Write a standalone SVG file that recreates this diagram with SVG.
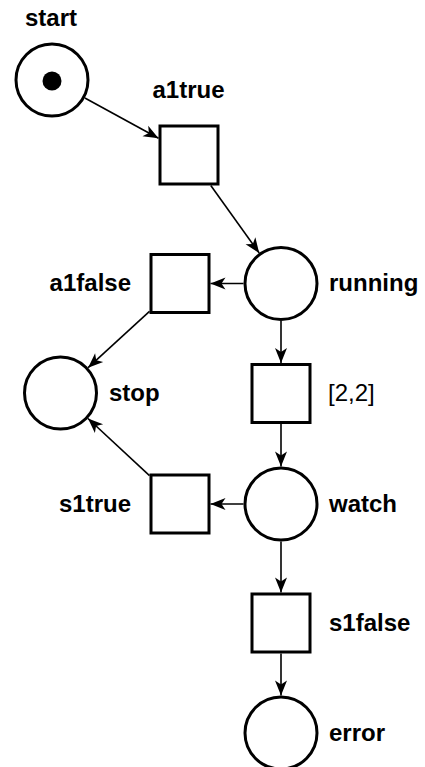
<svg xmlns="http://www.w3.org/2000/svg" width="425" height="767" viewBox="0 0 425 767">
  <style>
    .place { fill: #fff; stroke: #000; stroke-width: 3; }
    .trans { fill: #fff; stroke: #000; stroke-width: 3; }
    .token { fill: #000; }
    .lbl { font-family: "Liberation Sans", Arial, sans-serif; font-size: 24px; font-weight: bold; fill: #000; }
    .lbl.plain { font-weight: normal; }
    .arc { stroke: #000; stroke-width: 1.6; fill: none; marker-end: url(#head); }
  </style>
  <defs>
    <marker id="head" viewBox="-16 -7 17 14" markerWidth="17" markerHeight="14" refX="0" refY="0" markerUnits="userSpaceOnUse" orient="auto">
      <path d="M0,0 L-15,-6 L-11,0 L-15,6 Z" fill="#000"/>
    </marker>
  </defs>

  <rect width="425" height="767" fill="#fff"/>

  <!-- arcs -->
  <g id="arcs">
    <line class="arc" x1="84.9" y1="98" x2="158.5" y2="138.3"/>
    <line class="arc" x1="210.8" y1="185.5" x2="259.2" y2="253"/>
    <line class="arc" x1="243.5" y1="283.5" x2="210.5" y2="283.5"/>
    <line class="arc" x1="149.5" y1="311.4" x2="88.1" y2="367.7"/>
    <line class="arc" x1="281" y1="321" x2="281" y2="363"/>
    <line class="arc" x1="281" y1="424" x2="281" y2="466.5"/>
    <line class="arc" x1="243.5" y1="504" x2="210.5" y2="504"/>
    <line class="arc" x1="149.5" y1="475.7" x2="88" y2="418.5"/>
    <line class="arc" x1="281" y1="541.5" x2="281" y2="592.5"/>
    <line class="arc" x1="281" y1="653.5" x2="281" y2="695.5"/>
  </g>

  <!-- places -->
  <g id="start">
    <circle class="place" cx="52" cy="80" r="36"/>
    <circle class="token" cx="52" cy="81" r="9.5"/>
    <text class="lbl" x="51" y="26" text-anchor="middle">start</text>
  </g>
  <g id="running">
    <circle class="place" cx="281" cy="283.5" r="36"/>
    <text class="lbl" x="329" y="291">running</text>
  </g>
  <g id="stop">
    <circle class="place" cx="60.5" cy="393" r="36"/>
    <text class="lbl" x="109" y="401">stop</text>
  </g>
  <g id="watch">
    <circle class="place" cx="281" cy="504" r="36"/>
    <text class="lbl" x="329" y="512">watch</text>
  </g>
  <g id="error">
    <circle class="place" cx="281" cy="733" r="36"/>
    <text class="lbl" x="329" y="741">error</text>
  </g>

  <!-- transitions -->
  <g id="a1true">
    <rect class="trans" x="160" y="126" width="58" height="58"/>
    <text class="lbl" x="188.5" y="98" text-anchor="middle">a1true</text>
  </g>
  <g id="a1false">
    <rect class="trans" x="151" y="254.5" width="58" height="58"/>
    <text class="lbl" x="131" y="291" text-anchor="end">a1false</text>
  </g>
  <g id="t22">
    <rect class="trans" x="252" y="364.5" width="58" height="58"/>
    <text class="lbl plain" x="328" y="401">[2,2]</text>
  </g>
  <g id="s1true">
    <rect class="trans" x="151" y="475" width="58" height="58"/>
    <text class="lbl" x="131" y="512" text-anchor="end">s1true</text>
  </g>
  <g id="s1false">
    <rect class="trans" x="252" y="594" width="58" height="58"/>
    <text class="lbl" x="329" y="631">s1false</text>
  </g>
</svg>
